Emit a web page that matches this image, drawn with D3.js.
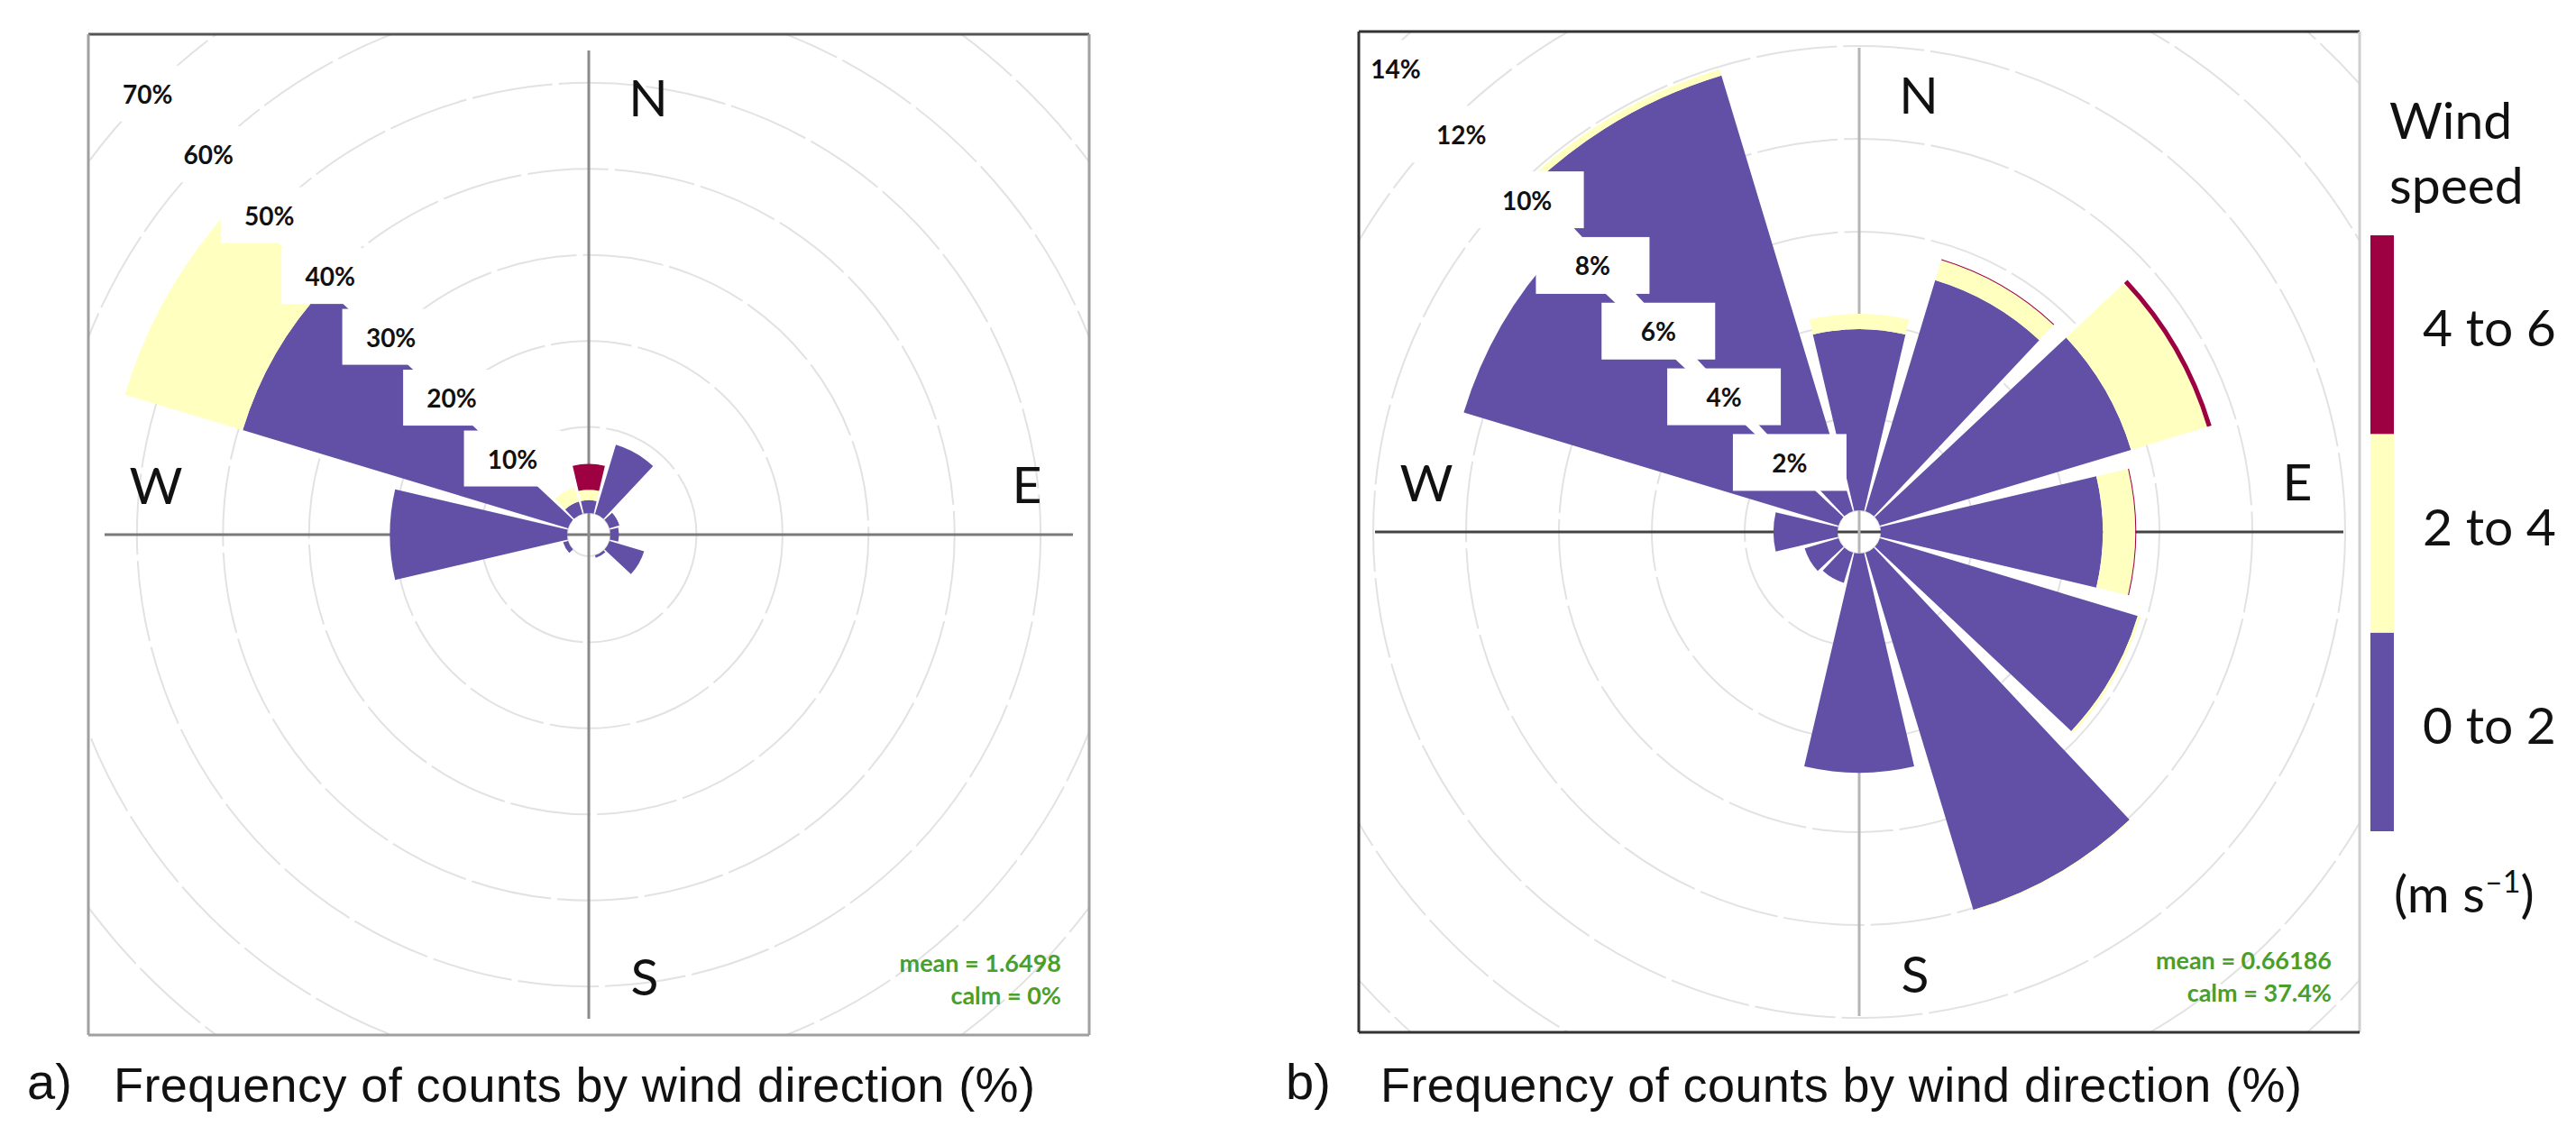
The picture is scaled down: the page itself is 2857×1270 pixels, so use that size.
<!DOCTYPE html>
<html>
<head>
<meta charset="utf-8">
<script src="https://cdn.jsdelivr.net/npm/d3@7"></script>
<style>
  html, body { margin: 0; padding: 0; background: #ffffff; }
  svg { display: block; }
</style>
</head>
<body>
<svg id="chart" width="2857" height="1270"></svg>
<script>
// ---------------- DATA ----------------
const directions = [0, 30, 60, 90, 120, 150, 180, 210, 240, 270, 300, 330];
const speedBins = ["0 to 2", "2 to 4", "4 to 6"];
const speedUnit = "(m s", speedUnitSup = "–1";

// Panel a) frequency (%) per direction, per wind speed bin
const aSpeed0to2 = [1.5, 8.4, 1.2, 1.0, 4.2, 0.3, 0, 0, 0.6, 20.6, 39.5, 1.5];
const aSpeed2to4 = [1.2, 0, 0, 0, 0, 0, 0, 0, 0, 0, 14.3, 1.7];
const aSpeed4to6 = [3.0, 0, 0, 0, 0, 0, 0, 0, 0, 0, 0, 0];
const aTicks = [10, 20, 30, 40, 50, 60, 70];
const aMean = "mean = 1.6498";
const aCalm = "calm = 0%";
const aCaption = "Frequency of counts by wind direction (%)";

// Panel b) frequency (%) per direction, per wind speed bin
const bSpeed0to2 = [3.9, 5.2, 5.65, 4.78, 5.8, 8.04, 4.72, 0.68, 0.76, 1.38, 8.43, 9.8];
const bSpeed2to4 = [0.33, 0.45, 1.71, 0.7, 0.06, 0.02, 0, 0, 0, 0, 0, 0.14];
const bSpeed4to6 = [0, 0.02, 0.1, 0.02, 0, 0, 0, 0, 0, 0, 0, 0];
const bTicks = [2, 4, 6, 8, 10, 12, 14];
const bMean = "mean = 0.66186";
const bCalm = "calm = 37.4%";
const bCaption = "Frequency of counts by wind direction (%)";

const compass = [{t: "N", a: 0}, {t: "E", a: 90}, {t: "S", a: 180}, {t: "W", a: 270}];

// ---------------- STYLE ----------------
const speedColors = ["#6150A6", "#FFFFBF", "#9E0142"];
const svg = d3.select("#chart");
svg.append("rect").attr("width", 2857).attr("height", 1270).attr("fill", "#fff");

function drawRose(cfg) {
  const {cx, cy, half, ticks, maxTick, pxPerMax, s0, s1, s2, labelOff, boxW, boxH,
         hAxisColor, vAxisColor, frameColors, mean, calm, id} = cfg;
  const r = d3.scaleLinear().domain([0, maxTick]).range([24, 24 + pxPerMax]);
  const g = svg.append("g").attr("transform", `translate(${cx},${cy})`);

  const clipId = "clip-" + id;
  g.append("clipPath").attr("id", clipId)
    .append("rect").attr("x", -half).attr("y", -half).attr("width", 2 * half).attr("height", 2 * half);

  const body = g.append("g").attr("clip-path", `url(#${clipId})`);

  // grid rings
  body.selectAll("circle.ring").data([0].concat(ticks)).join("circle")
    .attr("class", "ring")
    .attr("r", d => r(d))
    .attr("fill", "none")
    .attr("stroke", "#e2e2e2")
    .attr("stroke-width", 2)
    .attr("stroke-dasharray", "90,7");

  // axis lines
  const L = half - 18;
  body.append("line").attr("x1", -L).attr("x2", L).attr("y1", 0).attr("y2", 0)
    .attr("stroke", hAxisColor).attr("stroke-width", 3);
  body.append("line").attr("x1", 0).attr("x2", 0).attr("y1", -L).attr("y2", L)
    .attr("stroke", vAxisColor).attr("stroke-width", 3);

  // wedges (stacked by speed bin)
  const rows = directions.map((d, i) => ({dir: d, k0: s0[i], k1: s1[i], k2: s2[i]}));
  const stack = d3.stack().keys(["k0", "k1", "k2"]);
  const series = stack(rows);
  const hw = 13.2 * Math.PI / 180;
  const arc = d3.arc();
  series.forEach((ser, si) => {
    body.selectAll(null).data(ser.filter(d => d[1] - d[0] > 0)).join("path")
      .attr("d", d => arc({
        innerRadius: r(d[0]), outerRadius: r(d[1]),
        startAngle: d.data.dir * Math.PI / 180 - hw,
        endAngle: d.data.dir * Math.PI / 180 + hw
      }))
      .attr("fill", speedColors[si]);
  });

  // percentage labels along 315 degrees with white boxes
  const ang = 315 * Math.PI / 180;
  const lab = ticks.map(v => {
    const rr = r(v) - labelOff;
    return {v, x: Math.sin(ang) * rr, y: -Math.cos(ang) * rr};
  });
  body.selectAll("rect.lbox").data(lab).join("rect")
    .attr("x", d => d.x - boxW / 2).attr("y", d => d.y - boxH / 2)
    .attr("width", boxW).attr("height", boxH).attr("fill", "#fff");
  body.selectAll("text.ltxt").data(lab).join("text")
    .attr("x", d => d.x).attr("y", d => d.y)
    .attr("text-anchor", "middle").attr("dominant-baseline", "central")
    .attr("font-family", "Lato, 'Open Sans', sans-serif")
    .attr("font-weight", "bold").attr("font-size", 28).attr("fill", "#111")
    .text(d => d.v + "%");

  // compass letters
  const compassPos = {N: [66, -486], E: [486, -57], S: [62, 489], W: [-480, -56]};
  body.selectAll("text.cmp").data(compass).join("text")
    .attr("x", d => compassPos[d.t][0]).attr("y", d => compassPos[d.t][1])
    .attr("text-anchor", "middle").attr("dominant-baseline", "central")
    .attr("font-family", "Lato, 'Open Sans', sans-serif")
    .attr("font-size", 57).attr("fill", "#111")
    .text(d => d.t);

  // mean / calm
  const st = g.append("g")
    .attr("font-family", "Lato, 'Open Sans', sans-serif")
    .attr("font-weight", "bold").attr("font-size", 27).attr("fill", "#4a9e2a")
    .attr("text-anchor", "end");
  st.append("text").attr("x", half - 31).attr("y", 485).text(mean);
  st.append("text").attr("x", half - 31).attr("y", 521).text(calm);

  // frame
  const edges = [
    [-half, -half, half, -half, frameColors[0]],
    [half, -half, half, half, frameColors[1]],
    [-half, half, half, half, frameColors[2]],
    [-half, -half, -half, half, frameColors[3]]
  ];
  g.selectAll("line.frame").data(edges).join("line")
    .attr("x1", d => d[0]).attr("y1", d => d[1]).attr("x2", d => d[2]).attr("y2", d => d[3])
    .attr("stroke", d => d[4]).attr("stroke-width", 3);
}

drawRose({
  id: "a", cx: 653, cy: 593, half: 555, ticks: aTicks, maxTick: 70, pxPerMax: 668,
  s0: aSpeed0to2, s1: aSpeed2to4, s2: aSpeed4to6, labelOff: 0, boxW: 108, boxH: 62,
  hAxisColor: "#7a7a7a", vAxisColor: "#8a8a8a",
  frameColors: ["#555", "#a0a0a0", "#a0a0a0", "#a0a0a0"], mean: aMean, calm: aCalm
});
drawRose({
  id: "b", cx: 2062, cy: 590, half: 555, ticks: bTicks, maxTick: 14, pxPerMax: 721,
  s0: bSpeed0to2, s1: bSpeed2to4, s2: bSpeed4to6, labelOff: 18, boxW: 126, boxH: 63,
  hAxisColor: "#444", vAxisColor: "#b5b5b5",
  frameColors: ["#333", "#cfcfcf", "#333", "#333"], mean: bMean, calm: bCalm
});

// captions
const caps = [{tag: "a)", x0: 30, x1: 126, text: aCaption}, {tag: "b)", x0: 1426, x1: 1531, text: bCaption}];
const capG = svg.append("g").attr("font-family", "'Liberation Sans', Arial, sans-serif").attr("fill", "#111");
capG.selectAll("text.tag").data(caps).join("text")
  .attr("x", d => d.x0).attr("y", 1219).attr("font-size", 56).text(d => d.tag);
capG.selectAll("text.cap").data(caps).join("text")
  .attr("x", d => d.x1).attr("y", 1222).attr("font-size", 54)
  .attr("textLength", 1022).attr("lengthAdjust", "spacing")
  .text(d => d.text);

// legend
const leg = svg.append("g").attr("font-family", "Lato, 'Open Sans', sans-serif").attr("fill", "#111");
leg.append("text").attr("x", 2650).attr("y", 154).attr("font-size", 57).text("Wind");
leg.append("text").attr("x", 2650).attr("y", 226).attr("font-size", 57).text("speed");
const ly = d3.scaleBand().domain(speedBins.slice().reverse()).range([261, 922]);
leg.selectAll("rect.lb").data(speedBins).join("rect")
  .attr("x", 2629).attr("width", 26)
  .attr("y", d => ly(d)).attr("height", ly.bandwidth())
  .attr("fill", (d, i) => speedColors[i]);
leg.selectAll("text.ll").data(speedBins).join("text")
  .attr("x", 2687).attr("y", d => ly(d) + ly.bandwidth() / 2 + 13)
  .attr("font-size", 57).text(d => d);
const unit = leg.append("text").attr("x", 2655).attr("y", 1012).attr("font-size", 57);
unit.append("tspan").text(speedUnit);
unit.append("tspan").attr("dy", -22).attr("font-size", 34).text(speedUnitSup);
unit.append("tspan").attr("dy", 22).text(")");
</script>
</body>
</html>
